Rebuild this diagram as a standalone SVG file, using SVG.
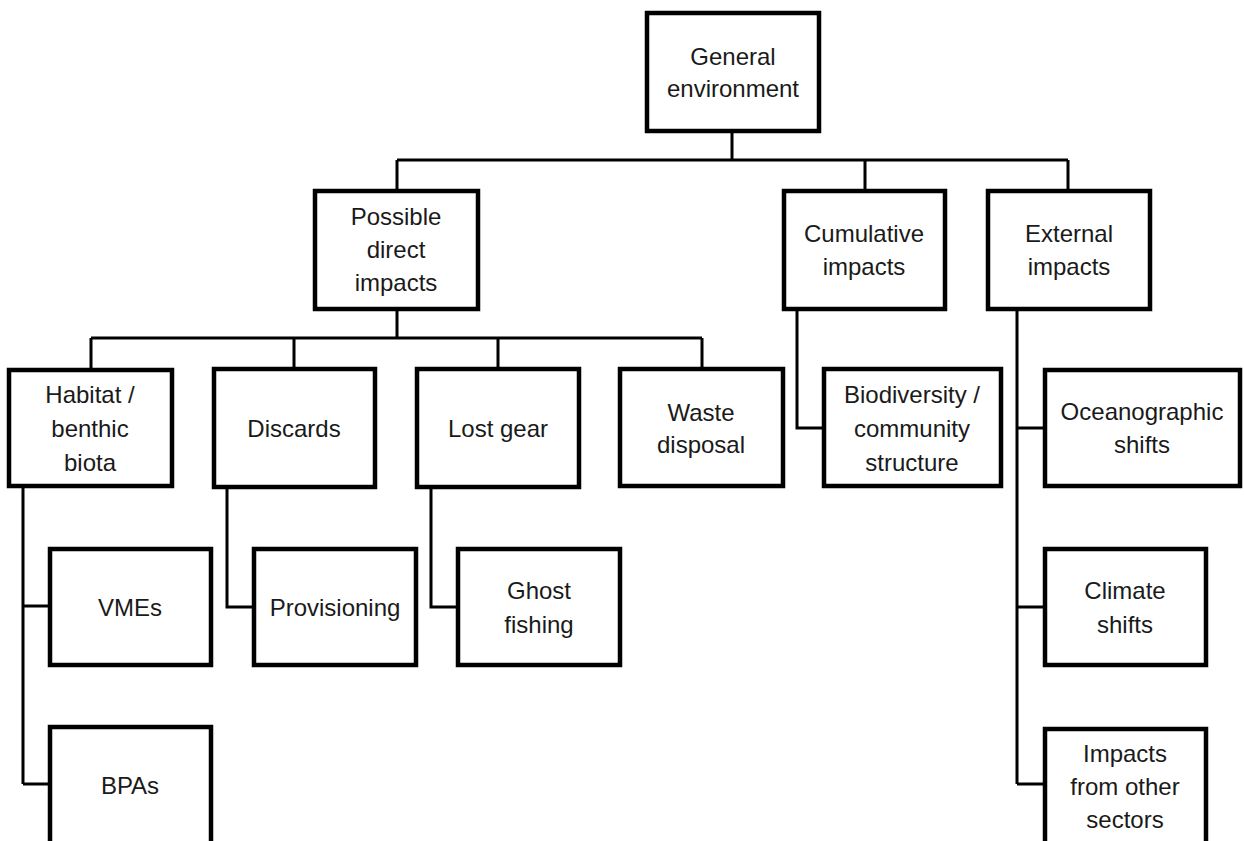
<svg xmlns="http://www.w3.org/2000/svg" width="1244" height="841" viewBox="0 0 1244 841">
  <style>
    .box { fill: #ffffff; stroke: #000000; stroke-width: 4.5; }
    .link { fill: none; stroke: #000000; stroke-width: 3; }
    .label { font-family: "Liberation Sans", Arial, sans-serif; font-size: 24px; fill: #1a1a1a; text-anchor: middle; }
  </style>
  <rect width="1244" height="841" fill="#ffffff"/>

  <!-- tree connectors -->
  <g id="connectors">
    <path class="link" d="M732 131 V160 M397 160 H1068 M397 160 V191 M865 160 V191 M1068 160 V191"/>
    <path class="link" d="M397 309 V338 M91 338 H702 M91 338 V370 M294 338 V369 M498 338 V369 M702 338 V369"/>
    <path class="link" d="M23 486 V784 M23 606 H50 M23 784 H50"/>
    <path class="link" d="M227 487 V607 H254"/>
    <path class="link" d="M431 487 V607 H458"/>
    <path class="link" d="M797 309 V428 H824"/>
    <path class="link" d="M1017 309 V784 M1017 428 H1045 M1017 607 H1045 M1017 784 H1045"/>
  </g>

  <g id="general-environment">
    <rect class="box" x="647" y="13" width="172" height="118"/>
    <text class="label" x="733" y="65">General</text>
    <text class="label" x="733" y="97">environment</text>
  </g>

  <g id="possible-direct-impacts">
    <rect class="box" x="315" y="191" width="163" height="118"/>
    <text class="label" x="396" y="225">Possible</text>
    <text class="label" x="396" y="258">direct</text>
    <text class="label" x="396" y="291">impacts</text>
  </g>

  <g id="cumulative-impacts">
    <rect class="box" x="784" y="191" width="161" height="118"/>
    <text class="label" x="864" y="242">Cumulative</text>
    <text class="label" x="864" y="275">impacts</text>
  </g>

  <g id="external-impacts">
    <rect class="box" x="988" y="191" width="162" height="118"/>
    <text class="label" x="1069" y="242">External</text>
    <text class="label" x="1069" y="275">impacts</text>
  </g>

  <g id="habitat-benthic-biota">
    <rect class="box" x="9" y="370" width="163" height="116"/>
    <text class="label" x="90" y="403">Habitat /</text>
    <text class="label" x="90" y="437">benthic</text>
    <text class="label" x="90" y="471">biota</text>
  </g>

  <g id="discards">
    <rect class="box" x="214" y="369" width="161" height="118"/>
    <text class="label" x="294" y="437">Discards</text>
  </g>

  <g id="lost-gear">
    <rect class="box" x="417" y="369" width="162" height="118"/>
    <text class="label" x="498" y="437">Lost gear</text>
  </g>

  <g id="waste-disposal">
    <rect class="box" x="620" y="369" width="163" height="117"/>
    <text class="label" x="701" y="421">Waste</text>
    <text class="label" x="701" y="453">disposal</text>
  </g>

  <g id="biodiversity-community-structure">
    <rect class="box" x="824" y="369" width="177" height="117"/>
    <text class="label" x="912" y="403">Biodiversity /</text>
    <text class="label" x="912" y="437">community</text>
    <text class="label" x="912" y="471">structure</text>
  </g>

  <g id="oceanographic-shifts">
    <rect class="box" x="1045" y="370" width="195" height="116"/>
    <text class="label" x="1142" y="420">Oceanographic</text>
    <text class="label" x="1142" y="453">shifts</text>
  </g>

  <g id="vmes">
    <rect class="box" x="50" y="549" width="161" height="116"/>
    <text class="label" x="130" y="616">VMEs</text>
  </g>

  <g id="provisioning">
    <rect class="box" x="254" y="549" width="162" height="116"/>
    <text class="label" x="335" y="616">Provisioning</text>
  </g>

  <g id="ghost-fishing">
    <rect class="box" x="458" y="549" width="162" height="116"/>
    <text class="label" x="539" y="599">Ghost</text>
    <text class="label" x="539" y="633">fishing</text>
  </g>

  <g id="climate-shifts">
    <rect class="box" x="1045" y="549" width="161" height="116"/>
    <text class="label" x="1125" y="599">Climate</text>
    <text class="label" x="1125" y="633">shifts</text>
  </g>

  <g id="bpas">
    <rect class="box" x="50" y="727" width="161" height="118"/>
    <text class="label" x="130" y="794">BPAs</text>
  </g>

  <g id="impacts-from-other-sectors">
    <rect class="box" x="1045" y="729" width="161" height="118"/>
    <text class="label" x="1125" y="762">Impacts</text>
    <text class="label" x="1125" y="795">from other</text>
    <text class="label" x="1125" y="828">sectors</text>
  </g>
</svg>
